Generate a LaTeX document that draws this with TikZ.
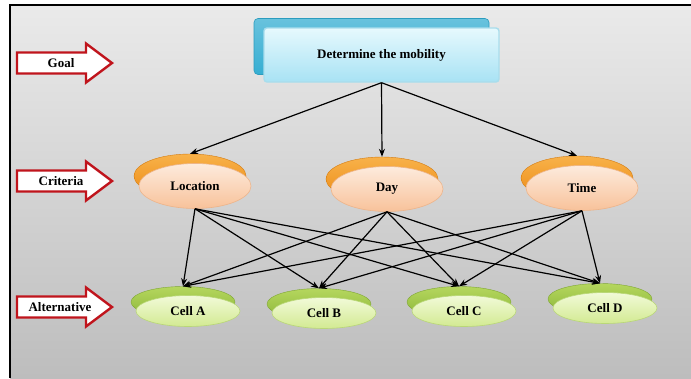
\documentclass[tikz,border=0pt]{standalone}
\usepackage{fontspec}
\setmainfont{Liberation Serif}
\usetikzlibrary{shapes.geometric,arrows.meta}

\definecolor{bgtop}{HTML}{EAEAEA}
\definecolor{bgbot}{HTML}{BDBDBD}
\definecolor{arrowred}{HTML}{C0141C}
\definecolor{boxback}{HTML}{36AED2}
\definecolor{boxbackedge}{HTML}{2C9CBE}
\definecolor{boxtop}{HTML}{E6F9FD}
\definecolor{boxbot}{HTML}{A8E2F4}
\definecolor{boxedge}{HTML}{A9DDEC}
\definecolor{orgtop}{HTML}{F8B24A}
\definecolor{orgbot}{HTML}{EC8A14}
\definecolor{peachtop}{HTML}{FDEBDD}
\definecolor{peachbot}{HTML}{F8C29A}
\definecolor{peachedge}{HTML}{EDB48A}
\definecolor{grntop}{HTML}{B5D65E}
\definecolor{grnbot}{HTML}{8DB83A}
\definecolor{limetop}{HTML}{F2FAD8}
\definecolor{limebot}{HTML}{D2EA92}
\definecolor{limeedge}{HTML}{B9D777}

\tikzset{
  lbl/.style={font=\fontsize{13}{15}\selectfont\bfseries, inner sep=0pt},
  levelarrow/.style={draw=arrowred, line width=2.4pt, fill=white, line join=miter},
  goalback/.style={rounded corners=4pt, top color=boxback!75!white, bottom color=boxback,
    draw=boxbackedge, line width=0.6pt, minimum width=235pt, minimum height=56pt, inner sep=0pt},
  goalfront/.style={rounded corners=3pt, top color=boxtop, bottom color=boxbot,
    draw=boxedge, line width=1.4pt, minimum width=235pt, minimum height=54pt,
    font=\fontsize{13}{15}\selectfont\bfseries, inner sep=0pt},
  critback/.style={ellipse, top color=orgtop, bottom color=orgbot, draw=orgbot!90!black,
    line width=0.4pt, minimum width=112pt, minimum height=44pt, inner sep=0pt},
  critfront/.style={ellipse, top color=peachtop, bottom color=peachbot, draw=peachedge,
    line width=0.6pt, minimum width=112pt, minimum height=45pt, inner sep=0pt,
    font=\fontsize{13}{15}\selectfont\bfseries},
  altback/.style={ellipse, top color=grntop, bottom color=grnbot, draw=grnbot!90!black,
    line width=0.4pt, minimum width=104pt, minimum height=31pt, inner sep=0pt},
  altfront/.style={ellipse, top color=limetop, bottom color=limebot, draw=limeedge,
    line width=0.6pt, minimum width=104pt, minimum height=31pt, inner sep=0pt,
    font=\fontsize{13}{15}\selectfont\bfseries},
  link/.style={line width=1.2pt, -{Stealth[length=8pt,width=6pt]}}
}

% hollow level arrow with its tip at x=113, centred on row #1
\newcommand\drawlevelarrow[1]{%
  \draw[levelarrow] (17,#1-10.5) -- (86,#1-10.5) -- (86,#1-19.5) -- (112,#1)
    -- (86,#1+19.5) -- (86,#1+10.5) -- (17,#1+10.5) -- cycle;}

\begin{document}
\begin{tikzpicture}[x=1pt,y=-1pt]
\useasboundingbox (0,0) rectangle (691,378);

% panel with grey gradient and a black frame on the left and top
\shade[top color=bgtop, bottom color=bgbot] (10,5) rectangle (691,378);
\draw[line width=1.8pt] (10,378) -- (10,5) -- (691,5);

% level markers
\drawlevelarrow{63}
\drawlevelarrow{181}
\drawlevelarrow{307}
\node[lbl] (goallbl) at (61,63) {Goal};
\node[lbl] (critlbl) at (61,181) {Criteria};
\node[lbl] (altlbl) at (60,307) {Alternative};

% goal box
\node[goalback] (goalb) at (371.5,46.5) {};
\node[goalfront] (goal) at (381.5,55) {Determine the mobility};

% criteria
\node[critback] (locb) at (190,176) {};
\node[critfront] (loc) at (195,186) {Location};
\node[critback] (dayb) at (382,179) {};
\node[critfront] (day) at (387,189) {Day};
\node[critback] (timeb) at (577,178) {};
\node[critfront] (time) at (582,188) {Time};

% alternatives
\node[altback] (cab) at (183,302) {};
\node[altfront] (ca) at (188,311) {Cell A};
\node[altback] (cbb) at (319,304) {};
\node[altfront] (cb) at (324,313) {Cell B};
\node[altback] (ccb) at (459,302) {};
\node[altfront] (cc) at (464,311) {Cell C};
\node[altback] (cdb) at (600,299) {};
\node[altfront] (cd) at (605,308) {Cell D};

% goal to criteria
\draw[link] (goal.south) -- (locb.north);
\draw[link] (goal.south) -- (dayb.north);
\draw[link] (goal.south) -- (timeb.north);

% criteria to alternatives
\foreach \c in {loc,day,time}
  \foreach \a in {cab,cbb,ccb,cdb}
    \draw[link] (\c.south) -- (\a.north);
\end{tikzpicture}
\end{document}
